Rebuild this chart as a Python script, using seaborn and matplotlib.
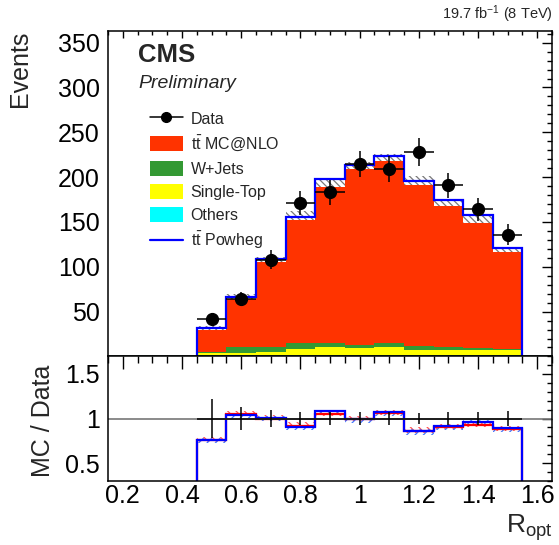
import numpy as np
import pandas as pd
import seaborn as sns
import matplotlib.pyplot as plt
from matplotlib.lines import Line2D
from matplotlib.patches import Patch
from matplotlib.ticker import MultipleLocator, FuncFormatter

# values, bins of width 0.1 centred at 0.5 ... 1.5
bin_centers = [0.5, 0.6, 0.7, 0.8, 0.9, 1.0, 1.1, 1.2, 1.3, 1.4, 1.5]
data = [42, 64, 108, 171, 183, 215, 209, 228, 191, 164, 136]
ttbar = [27, 57, 97, 142, 178, 200, 206, 184, 161, 143, 111]
wjets = [1.1, 6.3, 5.5, 6.8, 4.5, 4.0, 5.5, 4.6, 4.3, 2.6, 1.1]
single_top = [1.9, 2.2, 3.5, 6.0, 8.0, 7.3, 8.0, 5.9, 5.2, 5.2, 5.9]
others = [1.8, 1.5, 2.0, 2.0, 2.0, 2.0, 2.0, 1.5, 1.5, 1.5, 1.5]
powheg = [32, 66.5, 109, 155.5, 197.5, 213, 223.5, 196, 174, 157.5, 121]
mc_unc = [2, 3, 3, 5, 4, 4, 4, 5, 4, 4, 3]
ratio_err = [0.22, 0.125, 0.096, 0.077, 0.074, 0.068, 0.069, 0.066, 0.072, 0.078, 0.086]

processes = [r"t$\bar{\mathrm{t}}$ MC@NLO", "W+Jets", "Single-Top", "Others"]
colors = {processes[0]: "#ff3300", "W+Jets": "#339933",
          "Single-Top": "#ffff00", "Others": "#00ffff"}

sns.set_style("white")
plt.rcParams['font.family'] = ['Liberation Sans', 'DejaVu Sans']
plt.rcParams['mathtext.fontset'] = 'custom'
plt.rcParams['mathtext.rm'] = 'Liberation Sans'
plt.rcParams['mathtext.it'] = 'Liberation Sans:italic'
plt.rcParams['mathtext.bf'] = 'Liberation Sans:bold'
plt.rcParams['hatch.linewidth'] = 0.9

centers = np.array(bin_centers)
edges = np.append(centers - 0.05, centers[-1] + 0.05)
data = np.array(data)
mc_total = np.array(ttbar) + np.array(wjets) + np.array(single_top) + np.array(others)

df = pd.DataFrame({
    "x": np.tile(centers, 4),
    "w": np.concatenate([ttbar, wjets, single_top, others]),
    "process": np.repeat(processes, len(centers)),
})

fig = plt.figure(figsize=(5.59, 5.45), dpi=100)
W, H = 559, 545
ax1 = fig.add_axes([108 / W, (H - 356) / H, 444 / W, 325 / H])
ax2 = fig.add_axes([108 / W, (H - 481) / H, 444 / W, 125 / H])

# stacked MC
sns.histplot(data=df, x="x", weights="w", hue="process", hue_order=processes,
             multiple="stack", bins=[float(e) for e in edges], element="step",
             palette=colors, alpha=1, linewidth=0, legend=False, ax=ax1)
plt.rcParams['hatch.color'] = '#7a7a7a'
ax1.stairs(mc_total + np.array(mc_unc), edges, baseline=mc_total - np.array(mc_unc),
           fill=True, facecolor="white", edgecolor="#7a7a7a", hatch="\\" * 5, linewidth=0)
ax1.stairs(powheg, edges, baseline=0, color="#0000ff", linewidth=1.6)
ax1.axhline(0.8, color="#00cccc", linewidth=1)
ax1.errorbar(centers, data, xerr=0.05, yerr=np.sqrt(data), fmt="o", color="black",
             markersize=8.5, elinewidth=1.1, capsize=0)

ax1.set_xlim(0.15, 1.65)
ax1.set_ylim(0.5, 363)
ax1.set_xlabel("")
ax1.set_ylabel("")
ax1.xaxis.set_major_locator(MultipleLocator(0.2))
ax1.xaxis.set_minor_locator(MultipleLocator(0.05))
ax1.yaxis.set_major_locator(MultipleLocator(50))
ax1.yaxis.set_minor_locator(MultipleLocator(10))
ax1.tick_params(axis="x", labelbottom=False)

ax1.text(30 / 444, (356 - 61.7) / 325, "CMS", transform=ax1.transAxes,
         fontsize=18.5, fontweight="bold", va="baseline")
ax1.text(30 / 444, (356 - 88) / 325, "Preliminary", transform=ax1.transAxes,
         fontsize=14, fontstyle="italic", va="baseline")

handles = [
    Line2D([], [], color="black", marker="o", markersize=7, linewidth=1.1),
    Patch(facecolor=colors[processes[0]], edgecolor="none"),
    Patch(facecolor=colors["W+Jets"], edgecolor="none"),
    Patch(facecolor=colors["Single-Top"], edgecolor="none"),
    Patch(facecolor=colors["Others"], edgecolor="none"),
    Line2D([], [], color="#0000ff", linewidth=1.6),
]
labels = ["Data"] + processes + [r"t$\bar{\mathrm{t}}$ Powheg"]
ax1.legend(handles, labels, loc="upper left", bbox_to_anchor=(42 / 444, (356 - 111) / 325),
           frameon=False, fontsize=11.5, borderpad=0, borderaxespad=0,
           handlelength=2.06, handleheight=1.06, handletextpad=0.48, labelspacing=0.45)

# ratio panel
r_mc = mc_total / data
r_pw = np.array(powheg) / data
ax2.axhline(1, color="#777777", linewidth=1.2)
plt.rcParams['hatch.color'] = '#ff5555'
ax2.stairs(r_mc + 0.04, edges, baseline=r_mc - 0.02, fill=True, facecolor="none",
           edgecolor="#ff5555", hatch="\\" * 4, linewidth=0)
plt.rcParams['hatch.color'] = '#4477ff'
ax2.stairs(r_pw + 0.02, edges, baseline=r_pw - 0.04, fill=True, facecolor="none",
           edgecolor="#4477ff", hatch="/" * 4, linewidth=0)
ax2.stairs(r_mc, edges, baseline=0, color="#ff0000", linewidth=1.6)
ax2.stairs(r_pw, edges, baseline=0, color="#0000ff", linewidth=1.6)
ax2.errorbar(centers, np.ones_like(centers), xerr=0.05, yerr=ratio_err, fmt="none",
             color="black", elinewidth=1.1, capsize=0)

ax2.set_xlim(0.15, 1.65)
ax2.set_ylim(0.3, 1.7)
ax2.xaxis.set_major_locator(MultipleLocator(0.2))
ax2.xaxis.set_minor_locator(MultipleLocator(0.05))
ax2.yaxis.set_major_locator(MultipleLocator(0.5))
ax2.yaxis.set_minor_locator(MultipleLocator(0.1))
fmt = FuncFormatter(lambda v, p: "%g" % round(v, 2))
ax2.xaxis.set_major_formatter(fmt)
ax2.yaxis.set_major_formatter(fmt)

for ax, xl in ((ax1, 7), (ax2, 13)):
    for s in ax.spines.values():
        s.set_linewidth(1.1)
        s.set_color("black")
    ax.tick_params(which="both", direction="in", top=True, right=True,
                   width=1.0, labelsize=18, colors="black")
    ax.tick_params(axis="y", which="major", length=7, pad=6)
    ax.tick_params(axis="y", which="minor", length=3.6)
    ax.tick_params(axis="x", which="major", length=xl * 0.72, pad=2)
    ax.tick_params(axis="x", which="minor", length=xl * 0.36)

fig.text(20 / W, 1 - 31 / H, "Events", rotation=90, ha="center", va="top", fontsize=18)
fig.text(42.5 / W, 1 - 421 / H, "MC / Data", rotation=90, ha="center", va="center", fontsize=18)
fig.text(553 / W, 1 - 533 / H, r"R$_{\mathrm{opt}}$", ha="right", va="baseline", fontsize=19)
fig.text(553 / W, 1 - 19 / H, r"19.7 fb$^{-1}$ (8 TeV)", ha="right", va="baseline", fontsize=10.5)

fig.savefig("out.png", dpi=100)
